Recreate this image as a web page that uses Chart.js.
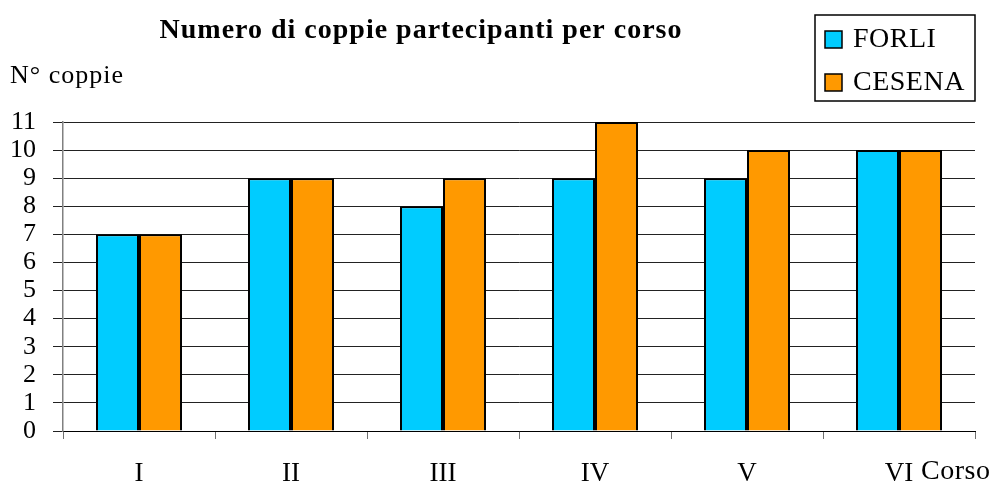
<!DOCTYPE html>
<html>
<head>
<meta charset="utf-8">
<script src="https://cdn.jsdelivr.net/npm/chart.js@4"></script>
<style>
  body { margin: 0; background: #fff; }
  #wrap { width: 993px; height: 486px; }
</style>
</head>
<body>
<div id="wrap"><canvas id="coppieChart"></canvas></div>
<script>
  // dati
  const corsi = ['I', 'II', 'III', 'IV', 'V', 'VI'];
  const forli = [7, 9, 8, 9, 9, 10];
  const cesena = [7, 9, 9, 11, 10, 10];
  const yTicks = [0, 1, 2, 3, 4, 5, 6, 7, 8, 9, 10, 11];

  const serif = '"Liberation Serif", "Times New Roman", serif';

  // title, axis names and boxed legend drawn on the canvas
  const extraText = {
    id: 'extraText',
    afterDraw(chart) {
      const c = chart.ctx;
      c.save();
      c.fillStyle = '#000';
      c.textBaseline = 'middle';

      c.font = 'bold 28px ' + serif;
      c.letterSpacing = '1px';
      c.textAlign = 'center';
      c.fillText('Numero di coppie partecipanti per corso', 421, 31);

      c.font = '26px ' + serif;
      c.textAlign = 'left';
      c.fillText('N° coppie', 10, 76);
      c.font = '28px ' + serif;
      c.letterSpacing = '0.5px';
      c.fillText('Corso', 921, 472);

      // legend
      c.lineWidth = 1.5;
      c.strokeStyle = '#000';
      c.strokeRect(815, 15, 160, 86);
      const items = [['FORLI', '#00CCFF', 39], ['CESENA', '#FF9900', 82]];
      items.forEach(([name, col, y]) => {
        c.fillStyle = col;
        c.fillRect(825, y - 8, 17, 17);
        c.strokeRect(825, y - 8, 17, 17);
        c.fillStyle = '#000';
        c.fillText(name, 853, y + 1);
      });
      c.restore();
    }
  };

  const ctx = document.getElementById('coppieChart').getContext('2d');
  const chart = new Chart(ctx, {
    type: 'bar',
    data: {
      labels: corsi,
      datasets: [
        { label: 'FORLI', data: forli, backgroundColor: '#00CCFF', borderColor: '#000', borderWidth: 2 },
        { label: 'CESENA', data: cesena, backgroundColor: '#FF9900', borderColor: '#000', borderWidth: 2 }
      ]
    },
    options: {
      responsive: true,
      maintainAspectRatio: false,
      animation: false,
      layout: { padding: { top: 122, right: 18, left: 0, bottom: 0 } },
      categoryPercentage: 0.566,
      barPercentage: 1,
      scales: {
        x: {
          afterFit: s => { s.height = 55; },
          grid: { offset: true, drawOnChartArea: false, drawTicks: true, tickLength: 8, tickColor: '#707070' },
          border: { display: true, color: '#000', width: 1 },
          ticks: { color: '#000', font: { family: serif, size: 27 }, padding: 19, autoSkip: false, maxRotation: 0 }
        },
        y: {
          min: 0,
          max: 11,
          afterFit: s => { s.width = 63; },
          afterBuildTicks: s => { s.ticks = yTicks.map(v => ({ value: v })); },
          grid: { color: '#222', lineWidth: 1, tickLength: 10, tickColor: '#222' },
          border: { display: true, color: '#808080', width: 1.5 },
          ticks: { color: '#000', font: { family: serif, size: 26 }, padding: 17, autoSkip: false }
        }
      },
      plugins: {
        legend: { display: false },
        title: { display: false },
        tooltip: { enabled: false }
      }
    },
    plugins: [extraText]
  });
</script>
</body>
</html>
